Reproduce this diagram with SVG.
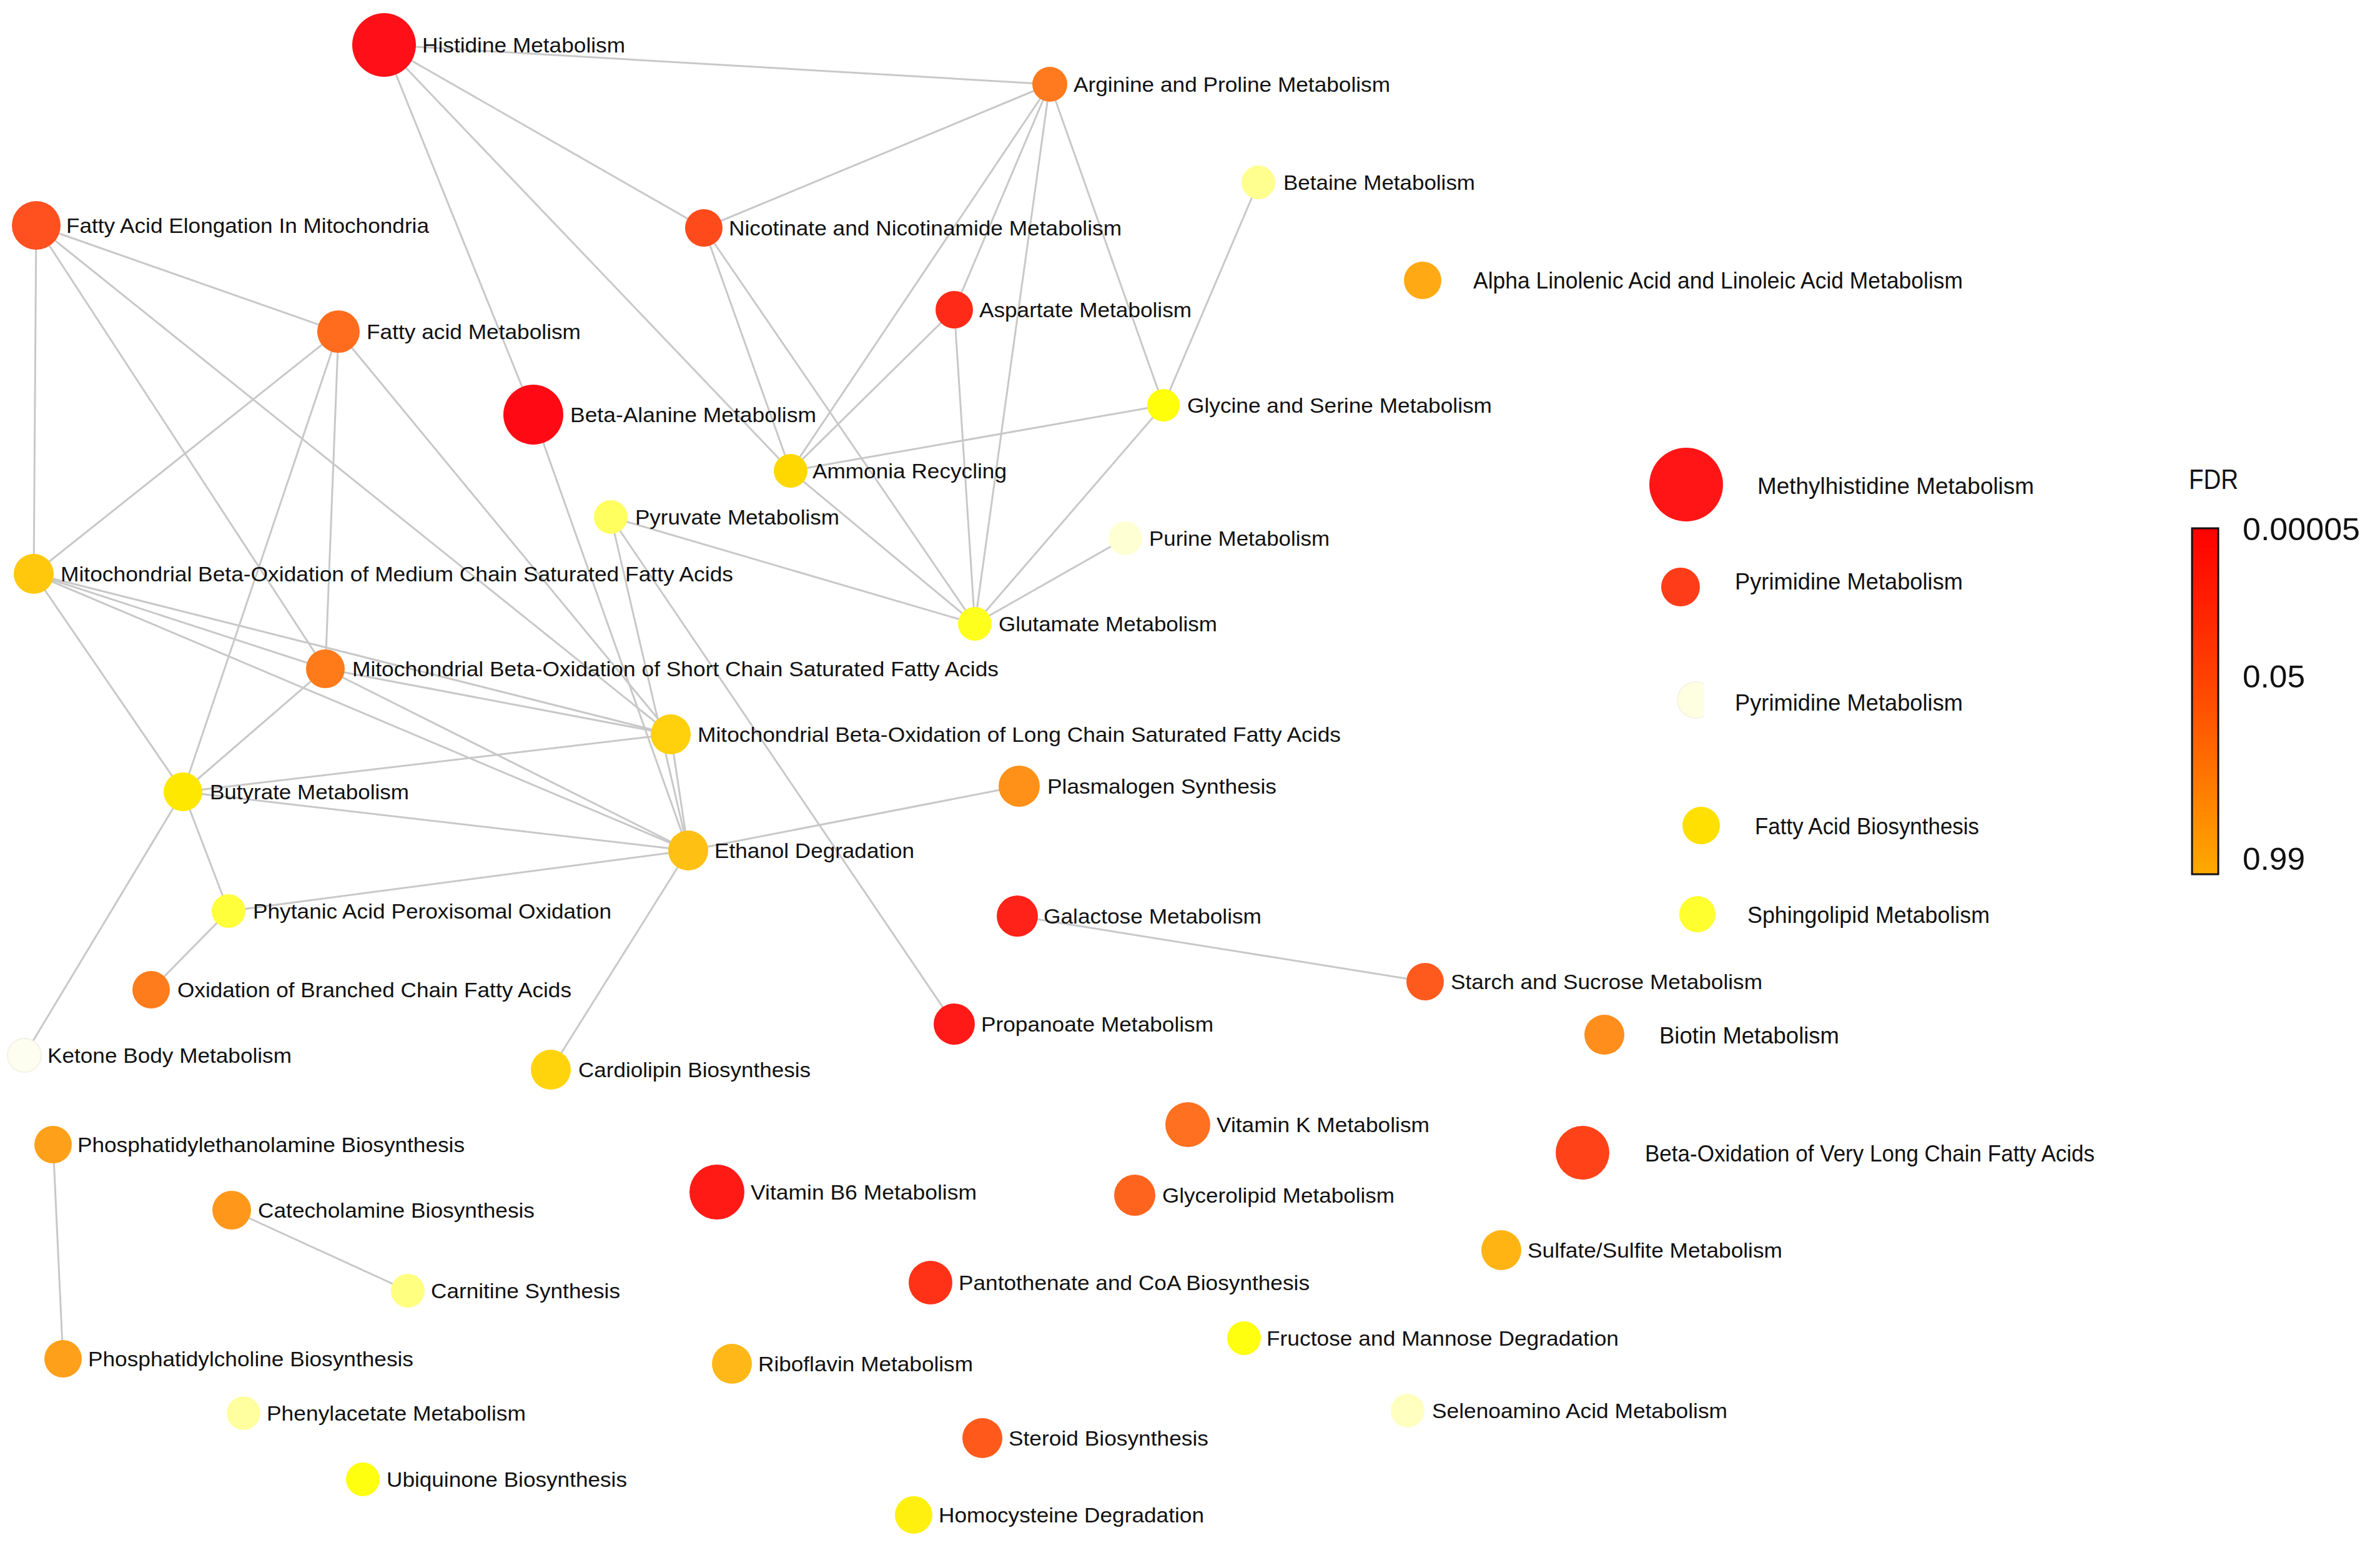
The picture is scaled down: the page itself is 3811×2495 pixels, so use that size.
<svg xmlns="http://www.w3.org/2000/svg" width="3811" height="2495" viewBox="0 0 3811 2495">
<style>
.e line{stroke:#c8c8c8;stroke-width:3;fill:none}
text{font-family:"Liberation Sans",Arial,sans-serif;fill:#111}
.t{font-size:33px}
.c{font-size:36px}
.lg{font-size:50px}
</style>
<defs>
<linearGradient id="fdr" x1="0" y1="0" x2="0" y2="1">
<stop offset="0" stop-color="#ff0000"/>
<stop offset="0.45" stop-color="#ff4400"/>
<stop offset="1" stop-color="#ffaa00"/>
</linearGradient>
<clipPath id="cut"><rect x="2680" y="1085" width="48" height="75"/></clipPath>
</defs>
<rect width="3811" height="2495" fill="#ffffff"/>
<g id="edges" class="e">
<line x1="615" y1="72" x2="1681" y2="135"/>
<line x1="615" y1="72" x2="1127" y2="365"/>
<line x1="615" y1="72" x2="854" y2="664"/>
<line x1="615" y1="72" x2="1266" y2="754"/>
<line x1="1681" y1="135" x2="1127" y2="365"/>
<line x1="1681" y1="135" x2="1266" y2="754"/>
<line x1="1681" y1="135" x2="1528" y2="496"/>
<line x1="1681" y1="135" x2="1561" y2="999"/>
<line x1="1681" y1="135" x2="1863" y2="649"/>
<line x1="1127" y1="365" x2="1266" y2="754"/>
<line x1="1127" y1="365" x2="1561" y2="999"/>
<line x1="1528" y1="496" x2="1266" y2="754"/>
<line x1="1528" y1="496" x2="1561" y2="999"/>
<line x1="1863" y1="649" x2="1266" y2="754"/>
<line x1="1863" y1="649" x2="1561" y2="999"/>
<line x1="2015" y1="292" x2="1863" y2="649"/>
<line x1="1266" y1="754" x2="1561" y2="999"/>
<line x1="1802" y1="862" x2="1561" y2="999"/>
<line x1="978" y1="828" x2="1561" y2="999"/>
<line x1="978" y1="828" x2="1102" y2="1362"/>
<line x1="978" y1="828" x2="1528" y2="1640"/>
<line x1="854" y1="664" x2="1102" y2="1362"/>
<line x1="58" y1="361" x2="542" y2="531"/>
<line x1="58" y1="361" x2="54" y2="919"/>
<line x1="58" y1="361" x2="521" y2="1071"/>
<line x1="58" y1="361" x2="1074" y2="1176"/>
<line x1="542" y1="531" x2="54" y2="919"/>
<line x1="542" y1="531" x2="293" y2="1268"/>
<line x1="542" y1="531" x2="521" y2="1071"/>
<line x1="542" y1="531" x2="1074" y2="1176"/>
<line x1="54" y1="919" x2="521" y2="1071"/>
<line x1="54" y1="919" x2="1074" y2="1176"/>
<line x1="54" y1="919" x2="1102" y2="1362"/>
<line x1="54" y1="919" x2="293" y2="1268"/>
<line x1="521" y1="1071" x2="293" y2="1268"/>
<line x1="521" y1="1071" x2="1074" y2="1176"/>
<line x1="521" y1="1071" x2="1102" y2="1362"/>
<line x1="293" y1="1268" x2="1074" y2="1176"/>
<line x1="293" y1="1268" x2="1102" y2="1362"/>
<line x1="293" y1="1268" x2="366" y2="1459"/>
<line x1="293" y1="1268" x2="39" y2="1690"/>
<line x1="1074" y1="1176" x2="1102" y2="1362"/>
<line x1="366" y1="1459" x2="1102" y2="1362"/>
<line x1="366" y1="1459" x2="242" y2="1585"/>
<line x1="1102" y1="1362" x2="882" y2="1713"/>
<line x1="1102" y1="1362" x2="1632" y2="1259"/>
<line x1="1629" y1="1467" x2="2282" y2="1572"/>
<line x1="85" y1="1833" x2="101" y2="2176"/>
<line x1="371" y1="1938" x2="653" y2="2067"/>
</g>
<g id="n-histidine"><circle cx="615" cy="72" r="51" fill="#ff1018"/><text class="t" x="676" y="84" textLength="325" lengthAdjust="spacingAndGlyphs">Histidine Metabolism</text></g>
<g id="n-arginine"><circle cx="1681" cy="135" r="28" fill="#ff7a1e"/><text class="t" x="1719" y="147" textLength="507" lengthAdjust="spacingAndGlyphs">Arginine and Proline Metabolism</text></g>
<g id="n-fae"><circle cx="58" cy="361" r="39" fill="#ff5020"/><text class="t" x="106" y="373" textLength="581" lengthAdjust="spacingAndGlyphs">Fatty Acid Elongation In Mitochondria</text></g>
<g id="n-nicotinate"><circle cx="1127" cy="365" r="30" fill="#ff4a1c"/><text class="t" x="1167" y="377" textLength="629" lengthAdjust="spacingAndGlyphs">Nicotinate and Nicotinamide Metabolism</text></g>
<g id="n-betaine"><circle cx="2015" cy="292" r="27" fill="#ffff90"/><text class="t" x="2055" y="304" textLength="307" lengthAdjust="spacingAndGlyphs">Betaine Metabolism</text></g>
<g id="n-aspartate"><circle cx="1528" cy="496" r="30" fill="#ff2a18"/><text class="t" x="1568" y="508" textLength="340" lengthAdjust="spacingAndGlyphs">Aspartate Metabolism</text></g>
<g id="n-alpha"><circle cx="2278" cy="449" r="30" fill="#ffaa14"/><text class="c" x="2359" y="462" textLength="784" lengthAdjust="spacingAndGlyphs">Alpha Linolenic Acid and Linoleic Acid Metabolism</text></g>
<g id="n-fattyacid"><circle cx="542" cy="531" r="34" fill="#ff6c1e"/><text class="t" x="587" y="543" textLength="343" lengthAdjust="spacingAndGlyphs">Fatty acid Metabolism</text></g>
<g id="n-betaalanine"><circle cx="854" cy="664" r="48" fill="#ff0a14"/><text class="t" x="913" y="676" textLength="394" lengthAdjust="spacingAndGlyphs">Beta-Alanine Metabolism</text></g>
<g id="n-glycine"><circle cx="1863" cy="649" r="26" fill="#ffff0a"/><text class="t" x="1901" y="661" textLength="488" lengthAdjust="spacingAndGlyphs">Glycine and Serine Metabolism</text></g>
<g id="n-ammonia"><circle cx="1266" cy="754" r="27" fill="#ffd800"/><text class="t" x="1301" y="766" textLength="311" lengthAdjust="spacingAndGlyphs">Ammonia Recycling</text></g>
<g id="n-methylhistidine"><circle cx="2700" cy="776" r="59" fill="#ff1515"/><text class="c" x="2814" y="791" textLength="443" lengthAdjust="spacingAndGlyphs">Methylhistidine Metabolism</text></g>
<g id="n-pyruvate"><circle cx="978" cy="828" r="27" fill="#ffff60"/><text class="t" x="1017" y="840" textLength="327" lengthAdjust="spacingAndGlyphs">Pyruvate Metabolism</text></g>
<g id="n-purine"><circle cx="1802" cy="862" r="27" fill="#ffffd4"/><text class="t" x="1840" y="874" textLength="289" lengthAdjust="spacingAndGlyphs">Purine Metabolism</text></g>
<g id="n-mitomedium"><circle cx="54" cy="919" r="32" fill="#ffc80c"/><text class="t" x="97" y="931" textLength="1077" lengthAdjust="spacingAndGlyphs">Mitochondrial Beta-Oxidation of Medium Chain Saturated Fatty Acids</text></g>
<g id="n-pyrimidine1"><circle cx="2691" cy="940" r="31" fill="#ff3c1a"/><text class="c" x="2778" y="944" textLength="365" lengthAdjust="spacingAndGlyphs">Pyrimidine Metabolism</text></g>
<g id="n-glutamate"><circle cx="1561" cy="999" r="27" fill="#ffff1e"/><text class="t" x="1599" y="1011" textLength="350" lengthAdjust="spacingAndGlyphs">Glutamate Metabolism</text></g>
<g id="n-mitoshort"><circle cx="521" cy="1071" r="31" fill="#ff7a18"/><text class="t" x="564" y="1083" textLength="1035" lengthAdjust="spacingAndGlyphs">Mitochondrial Beta-Oxidation of Short Chain Saturated Fatty Acids</text></g>
<g id="n-pyrimidine2"><circle cx="2715" cy="1121" r="29" fill="#fefee0" stroke="#f4f4e4" stroke-width="2" clip-path="url(#cut)"/><text class="c" x="2778" y="1138" textLength="365" lengthAdjust="spacingAndGlyphs">Pyrimidine Metabolism</text></g>
<g id="n-mitolong"><circle cx="1074" cy="1176" r="32" fill="#ffd00c"/><text class="t" x="1117" y="1188" textLength="1030" lengthAdjust="spacingAndGlyphs">Mitochondrial Beta-Oxidation of Long Chain Saturated Fatty Acids</text></g>
<g id="n-plasmalogen"><circle cx="1632" cy="1259" r="33" fill="#ff9018"/><text class="t" x="1677" y="1271" textLength="367" lengthAdjust="spacingAndGlyphs">Plasmalogen Synthesis</text></g>
<g id="n-butyrate"><circle cx="293" cy="1268" r="31" fill="#ffe800"/><text class="t" x="336" y="1280" textLength="319" lengthAdjust="spacingAndGlyphs">Butyrate Metabolism</text></g>
<g id="n-fattyacidbio"><circle cx="2724" cy="1322" r="30" fill="#ffe000"/><text class="c" x="2810" y="1336" textLength="359" lengthAdjust="spacingAndGlyphs">Fatty Acid Biosynthesis</text></g>
<g id="n-ethanol"><circle cx="1102" cy="1362" r="32" fill="#ffc014"/><text class="t" x="1144" y="1374" textLength="320" lengthAdjust="spacingAndGlyphs">Ethanol Degradation</text></g>
<g id="n-phytanic"><circle cx="366" cy="1459" r="27" fill="#ffff3c"/><text class="t" x="405" y="1471" textLength="574" lengthAdjust="spacingAndGlyphs">Phytanic Acid Peroxisomal Oxidation</text></g>
<g id="n-galactose"><circle cx="1629" cy="1467" r="33" fill="#ff2218"/><text class="t" x="1671" y="1479" textLength="349" lengthAdjust="spacingAndGlyphs">Galactose Metabolism</text></g>
<g id="n-sphingolipid"><circle cx="2718" cy="1464" r="29" fill="#ffff30"/><text class="c" x="2798" y="1478" textLength="388" lengthAdjust="spacingAndGlyphs">Sphingolipid Metabolism</text></g>
<g id="n-starch"><circle cx="2282" cy="1572" r="30" fill="#ff5a1e"/><text class="t" x="2323" y="1584" textLength="499" lengthAdjust="spacingAndGlyphs">Starch and Sucrose Metabolism</text></g>
<g id="n-oxbranched"><circle cx="242" cy="1585" r="30" fill="#ff7c1c"/><text class="t" x="284" y="1597" textLength="631" lengthAdjust="spacingAndGlyphs">Oxidation of Branched Chain Fatty Acids</text></g>
<g id="n-propanoate"><circle cx="1528" cy="1640" r="33" fill="#ff1a18"/><text class="t" x="1571" y="1652" textLength="372" lengthAdjust="spacingAndGlyphs">Propanoate Metabolism</text></g>
<g id="n-biotin"><circle cx="2569" cy="1657" r="32" fill="#ff8e1c"/><text class="c" x="2657" y="1671" textLength="288" lengthAdjust="spacingAndGlyphs">Biotin Metabolism</text></g>
<g id="n-ketone"><circle cx="39" cy="1690" r="27" fill="#fdfdf0" stroke="#f2f2e6" stroke-width="2"/><text class="t" x="76" y="1702" textLength="391" lengthAdjust="spacingAndGlyphs">Ketone Body Metabolism</text></g>
<g id="n-cardiolipin"><circle cx="882" cy="1713" r="32" fill="#ffd40c"/><text class="t" x="926" y="1725" textLength="372" lengthAdjust="spacingAndGlyphs">Cardiolipin Biosynthesis</text></g>
<g id="n-vitamink"><circle cx="1902" cy="1801" r="36" fill="#ff7020"/><text class="t" x="1948" y="1813" textLength="341" lengthAdjust="spacingAndGlyphs">Vitamin K Metabolism</text></g>
<g id="n-pe"><circle cx="85" cy="1833" r="30" fill="#ffa01a"/><text class="t" x="124" y="1845" textLength="620" lengthAdjust="spacingAndGlyphs">Phosphatidylethanolamine Biosynthesis</text></g>
<g id="n-betaoxvlc"><circle cx="2534" cy="1846" r="43" fill="#ff4218"/><text class="c" x="2634" y="1860" textLength="720" lengthAdjust="spacingAndGlyphs">Beta-Oxidation of Very Long Chain Fatty Acids</text></g>
<g id="n-vitb6"><circle cx="1148" cy="1909" r="44" fill="#ff1a16"/><text class="t" x="1202" y="1921" textLength="362" lengthAdjust="spacingAndGlyphs">Vitamin B6 Metabolism</text></g>
<g id="n-glycerolipid"><circle cx="1817" cy="1914" r="33" fill="#ff641e"/><text class="t" x="1861" y="1926" textLength="372" lengthAdjust="spacingAndGlyphs">Glycerolipid Metabolism</text></g>
<g id="n-catecholamine"><circle cx="371" cy="1938" r="31" fill="#ff981a"/><text class="t" x="413" y="1950" textLength="443" lengthAdjust="spacingAndGlyphs">Catecholamine Biosynthesis</text></g>
<g id="n-sulfate"><circle cx="2404" cy="2002" r="32" fill="#ffb414"/><text class="t" x="2446" y="2014" textLength="408" lengthAdjust="spacingAndGlyphs">Sulfate/Sulfite Metabolism</text></g>
<g id="n-pantothenate"><circle cx="1490" cy="2054" r="35" fill="#ff3218"/><text class="t" x="1535" y="2066" textLength="562" lengthAdjust="spacingAndGlyphs">Pantothenate and CoA Biosynthesis</text></g>
<g id="n-carnitine"><circle cx="653" cy="2067" r="27" fill="#ffff80"/><text class="t" x="690" y="2079" textLength="303" lengthAdjust="spacingAndGlyphs">Carnitine Synthesis</text></g>
<g id="n-fructose"><circle cx="1992" cy="2143" r="27" fill="#ffff10"/><text class="t" x="2028" y="2155" textLength="564" lengthAdjust="spacingAndGlyphs">Fructose and Mannose Degradation</text></g>
<g id="n-pc"><circle cx="101" cy="2176" r="30" fill="#ffa01a"/><text class="t" x="141" y="2188" textLength="521" lengthAdjust="spacingAndGlyphs">Phosphatidylcholine Biosynthesis</text></g>
<g id="n-riboflavin"><circle cx="1172" cy="2184" r="32" fill="#ffb818"/><text class="t" x="1214" y="2196" textLength="344" lengthAdjust="spacingAndGlyphs">Riboflavin Metabolism</text></g>
<g id="n-phenylacetate"><circle cx="390" cy="2263" r="27" fill="#ffffa0"/><text class="t" x="427" y="2275" textLength="415" lengthAdjust="spacingAndGlyphs">Phenylacetate Metabolism</text></g>
<g id="n-selenoamino"><circle cx="2254" cy="2259" r="27" fill="#ffffc0"/><text class="t" x="2293" y="2271" textLength="473" lengthAdjust="spacingAndGlyphs">Selenoamino Acid Metabolism</text></g>
<g id="n-steroid"><circle cx="1573" cy="2303" r="32" fill="#ff5a1c"/><text class="t" x="1615" y="2315" textLength="320" lengthAdjust="spacingAndGlyphs">Steroid Biosynthesis</text></g>
<g id="n-ubiquinone"><circle cx="581" cy="2369" r="27" fill="#ffff10"/><text class="t" x="619" y="2381" textLength="385" lengthAdjust="spacingAndGlyphs">Ubiquinone Biosynthesis</text></g>
<g id="n-homocysteine"><circle cx="1463" cy="2426" r="30" fill="#fff010"/><text class="t" x="1503" y="2438" textLength="425" lengthAdjust="spacingAndGlyphs">Homocysteine Degradation</text></g>
<g id="legend">
<text x="3505" y="783" font-size="45" textLength="79" lengthAdjust="spacingAndGlyphs">FDR</text>
<rect x="3510" y="846" width="42" height="554" fill="url(#fdr)" stroke="#111" stroke-width="3"/>
<text class="lg" x="3591" y="865" textLength="188" lengthAdjust="spacingAndGlyphs">0.00005</text>
<text class="lg" x="3591" y="1101" textLength="100" lengthAdjust="spacingAndGlyphs">0.05</text>
<text class="lg" x="3591" y="1393" textLength="100" lengthAdjust="spacingAndGlyphs">0.99</text>
</g>
</svg>
